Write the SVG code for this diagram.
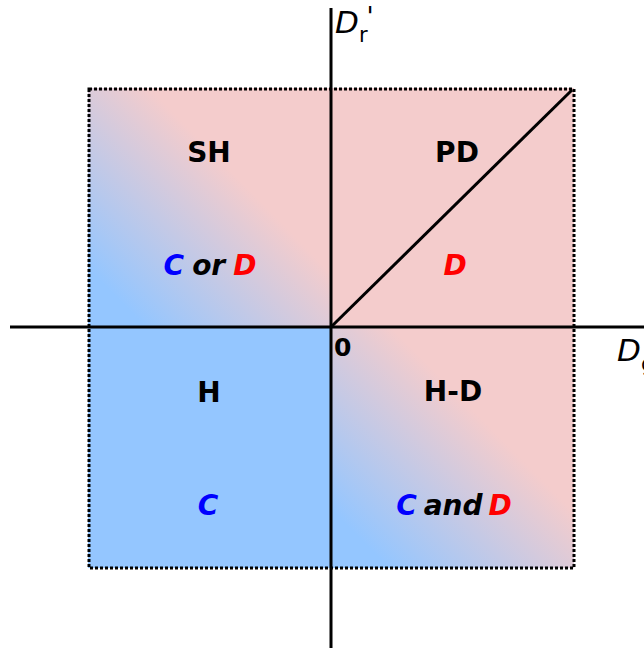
<svg xmlns="http://www.w3.org/2000/svg" width="644" height="649" viewBox="0 0 644 649">
<style>
.lbl{font-family:"DejaVu Sans",sans-serif;font-weight:bold;font-size:28px;text-anchor:middle}
.it{font-family:"DejaVu Sans",sans-serif;font-weight:bold;font-style:italic;font-size:28px;text-anchor:middle}
.ax{font-family:"DejaVu Sans",sans-serif;font-style:italic;font-size:31px}
.sub{font-style:normal;font-size:21px}
.pr{font-style:normal;font-size:26px}
.c{fill:#0000ff}.d{fill:#ff0000}.k{fill:#000}
.line{stroke:#000;stroke-width:3;fill:none}
</style>
<defs>
<linearGradient id="g1" gradientUnits="userSpaceOnUse" x1="88" y1="327" x2="331" y2="88">
<stop offset="0.12" stop-color="#94c6ff"/><stop offset="0.62" stop-color="#f4cccc"/>
</linearGradient>
<linearGradient id="g2" gradientUnits="userSpaceOnUse" x1="331" y1="568" x2="574" y2="327">
<stop offset="0.12" stop-color="#94c6ff"/><stop offset="0.62" stop-color="#f4cccc"/>
</linearGradient>
</defs>
<rect width="644" height="649" fill="#fff"/>
<g id="SH"><rect x="88" y="88" width="243" height="239" fill="url(#g1)"/>
<text class="lbl" x="209" y="162">SH</text>
<text class="it" x="210" y="275"><tspan class="c">C</tspan><tspan class="k" dx="8">or</tspan><tspan class="d" dx="8">D</tspan></text></g>
<g id="PD"><rect x="331" y="88" width="243" height="239" fill="#f4cccc"/>
<text class="lbl" x="457" y="162">PD</text>
<text class="it d" x="455" y="275">D</text></g>
<g id="H"><rect x="88" y="327" width="243" height="241" fill="#94c6ff"/>
<text class="lbl" x="209" y="402">H</text>
<text class="it c" x="208" y="515">C</text></g>
<g id="HD"><rect x="331" y="327" width="243" height="241" fill="url(#g2)"/>
<text class="lbl" x="453" y="401">H-D</text>
<text class="it" x="454" y="515"><tspan class="c">C</tspan><tspan class="k" dx="7">and</tspan><tspan class="d" dx="6">D</tspan></text></g>
<g id="connectors">
<rect x="89" y="89" width="485" height="479" fill="none" stroke="#000" stroke-width="3" stroke-dasharray="3,2"/>
<line class="line" x1="331" y1="327" x2="572" y2="90"/>
<line class="line" x1="331" y1="8" x2="331" y2="648"/>
<line class="line" x1="10" y1="327" x2="644" y2="327"/>
</g>
<g id="labels">
<text x="334" y="356" font-family="DejaVu Sans,sans-serif" font-size="25" font-weight="bold">0</text>
<text class="ax" x="335" y="33">D<tspan class="sub" dy="9">r</tspan><tspan class="pr" dx="-1" dy="-16">'</tspan></text>
<text class="ax" x="617" y="361">D<tspan class="sub" dy="10">g</tspan></text>
</g>
</svg>
